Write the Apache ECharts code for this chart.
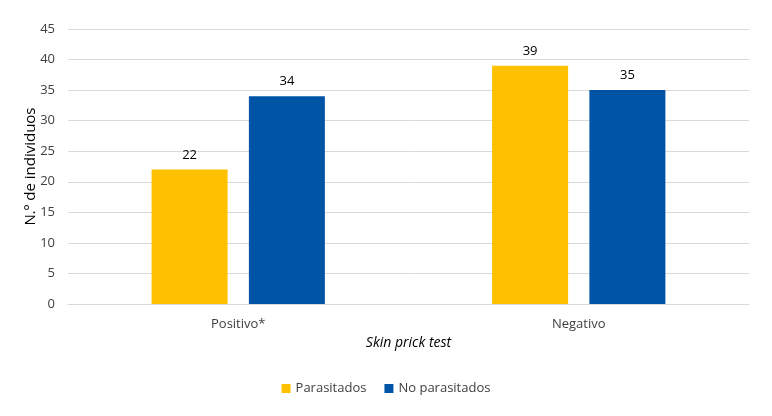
<!DOCTYPE html>
<html>
<head>
<meta charset="utf-8">
<script src="https://cdn.jsdelivr.net/npm/echarts@6/dist/echarts.min.js"></script>
<style>html,body{margin:0;padding:0;background:#fff;}#c{width:772px;height:416px;}</style>
</head>
<body>
<div id="c"></div>
<script>
var categories = ['Positivo*', 'Negativo'];
var parasitados = [22, 39];
var noParasitados = [34, 35];
var yTicks = [0, 5, 10, 15, 20, 25, 30, 35, 40, 45];

var font = 'Open Sans, Liberation Sans, sans-serif';
var chart = echarts.init(document.getElementById('c'));
chart.setOption({
  animation: false,
  textStyle: { fontFamily: font },
  grid: { left: 68, right: 23, top: 29, bottom: 112, containLabel: false },
  legend: {
    bottom: 16,
    left: 'center',
    itemWidth: 9, itemHeight: 9, itemGap: 18,
    icon: 'rect',
    textStyle: { color: '#404040', fontSize: 13, fontFamily: font },
    data: ['Parasitados', 'No parasitados']
  },
  xAxis: {
    type: 'category',
    data: categories,
    name: 'Skin prick test',
    nameLocation: 'middle',
    nameGap: 26,
    nameTextStyle: { fontStyle: 'italic', fontSize: 14, color: '#000', fontFamily: font },
    axisLine: { lineStyle: { color: '#D9D9D9' } },
    axisTick: { show: false },
    axisLabel: { color: '#404040', fontSize: 13, margin: 14, fontFamily: font }
  },
  yAxis: {
    type: 'value',
    min: yTicks[0], max: yTicks[yTicks.length - 1], interval: 5,
    name: 'N.º de individuos',
    nameLocation: 'middle',
    nameGap: 30,
    nameMoveOverlap: false,
    nameTextStyle: { fontSize: 15, color: '#000', fontFamily: font },
    axisLine: { show: false },
    axisTick: { show: false },
    splitLine: { lineStyle: { color: '#D9D9D9' } },
    axisLabel: { color: '#404040', fontSize: 13, margin: 13, fontFamily: font }
  },
  series: [
    {
      name: 'Parasitados', type: 'bar', data: parasitados,
      barWidth: 76, barGap: '28%',
      itemStyle: { color: '#FFC000' },
      label: { show: true, position: 'top', distance: 8, color: '#000', fontSize: 13, fontFamily: font }
    },
    {
      name: 'No parasitados', type: 'bar', data: noParasitados,
      barWidth: 76, barGap: '28%',
      itemStyle: { color: '#0054A6' },
      label: { show: true, position: 'top', distance: 8, color: '#000', fontSize: 13, fontFamily: font }
    }
  ]
});
</script>
</body>
</html>
